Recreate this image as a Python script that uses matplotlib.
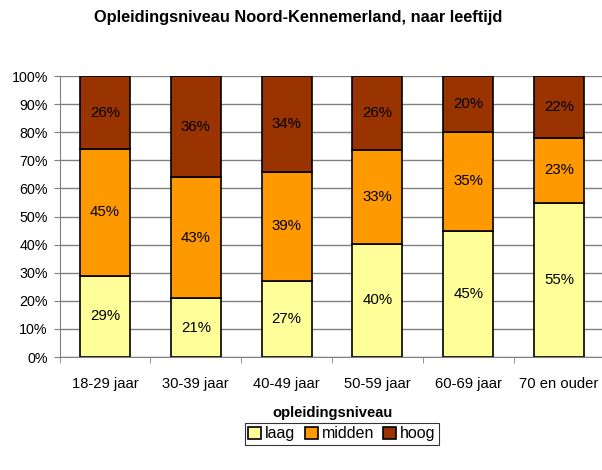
import matplotlib.pyplot as plt
import numpy as np

plt.rcParams['font.family'] = ['Liberation Sans', 'DejaVu Sans']

categories = ['18-29 jaar', '30-39 jaar', '40-49 jaar', '50-59 jaar', '60-69 jaar', '70 en ouder']
laag = [29, 21, 27, 40, 45, 55]
midden = [45, 43, 39, 33, 35, 23]
hoog = [26, 36, 34, 26, 20, 22]

series = [('laag', laag, '#FFFF99'), ('midden', midden, '#FF9900'), ('hoog', hoog, '#993300')]

fig = plt.figure(figsize=(6.02, 4.70), dpi=100)
ax = fig.add_axes([0.099, 0.2404, 0.905, 0.5976])

x = np.arange(len(categories))
# 100% stacked: scale each column to its total
totals = np.array(laag) + np.array(midden) + np.array(hoog)
bottom = np.zeros(len(categories))
handles = []
for name, vals, color in series:
    vals = np.array(vals, dtype=float)
    share = vals / totals * 100
    bars = ax.bar(x, share, 0.55, bottom=bottom, color=color, edgecolor='black',
                  linewidth=1.2, label=name, zorder=3)
    handles.append(bars)
    for xi, b, s, v in zip(x, bottom, share, vals):
        ax.text(xi, b + s / 2, f'{int(v)}%', ha='center', va='center', fontsize=10.8, zorder=4)
    bottom += share

ax.set_xlim(-0.5, len(categories) - 0.5)
ax.set_ylim(0, 100)
ax.set_yticks(range(0, 101, 10))
ax.set_yticklabels([f'{v}%' for v in range(0, 101, 10)], fontsize=10.3)
ax.yaxis.grid(True, color='#808080', linewidth=1.0, zorder=0)
ax.set_xticks(x)
ax.set_xticklabels(categories, fontsize=10.6)
ax.tick_params(axis='x', length=0, pad=14.5)
ax.set_xticks(np.arange(-0.5, len(categories)), minor=True)
ax.tick_params(axis='x', which='minor', length=4, color='#808080')
ax.tick_params(axis='y', length=4, color='#808080', pad=4.5)

for s in ['top', 'right']:
    ax.spines[s].set_visible(False)
ax.spines['left'].set_color('#808080')
ax.spines['bottom'].set_color('#808080')

ax.set_xlabel('opleidingsniveau', fontsize=10.6, fontweight='bold', labelpad=11)
fig.text(0.496, 0.962, 'Opleidingsniveau Noord-Kennemerland, naar leeftijd',
         ha='center', va='center', fontsize=11.8, fontweight='bold')

leg = fig.legend(handles=handles, labels=[s[0] for s in series], loc='center',
                 bbox_to_anchor=(0.568, 0.077), ncol=3, fontsize=11.5, frameon=True,
                 fancybox=False, edgecolor='black', handlelength=0.8, handleheight=0.8,
                 handletextpad=0.25, columnspacing=0.6, borderpad=0.2, borderaxespad=0)
leg.get_frame().set_linewidth(0.8)

fig.savefig('out.png', dpi=100)
